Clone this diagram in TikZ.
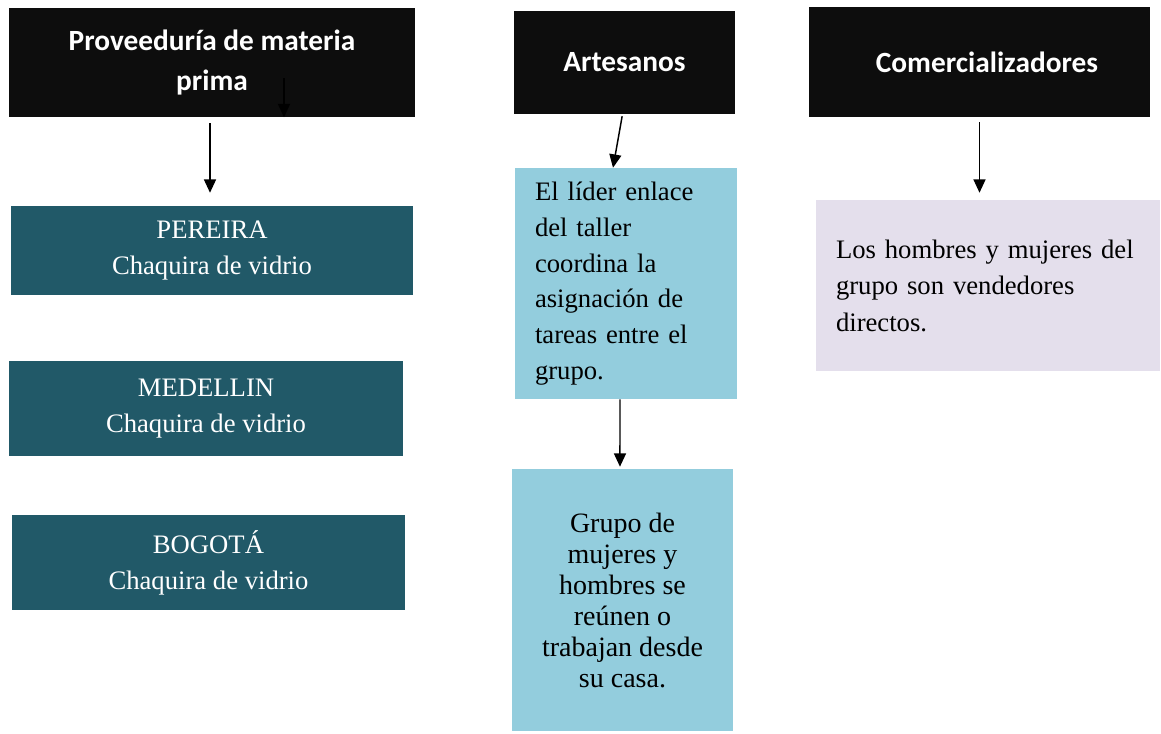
\documentclass[tikz,border=0pt]{standalone}
\usepackage{fontspec}
\setmainfont{Liberation Serif}
\newfontfamily\hdfont{Carlito}
\usepackage{tikz}
\usetikzlibrary{arrows.meta}

\definecolor{hdblack}{HTML}{0D0D0D}
\definecolor{cityteal}{HTML}{215968}
\definecolor{taskblue}{HTML}{93CDDD}
\definecolor{salelav}{HTML}{E4DFEC}

\begin{document}
\begin{tikzpicture}[x=0.75pt, y=-0.75pt,
  hdbox/.style={fill=hdblack, text=white, align=center,
    font=\hdfont\bfseries\fontsize{22}{30}\selectfont},
  citybox/.style={fill=cityteal, text=white, align=center,
    font=\fontsize{20}{27}\selectfont},
  taskbox/.style={fill=taskblue, text=black,
    font=\fontsize{20}{26.8}\selectfont},
  arr/.style={-{Triangle[length=10pt,width=9pt]}, line width=1.1pt}]
  \useasboundingbox (0,0) rectangle (1161,733);

  % cabeceras
  \node[hdbox, minimum width=304.5pt, minimum height=81.75pt] (prov) at (212,62.5)
    {Proveeduría de materia\\prima};
  \node[hdbox, minimum width=165.75pt, minimum height=77.25pt] (arte) at (624.5,62.5)
    {Artesanos};
  \node[hdbox, minimum width=255.75pt, minimum height=82.5pt] (come) at (979.5,62)
    {\hspace*{11.25pt}Comercializadores};

  % proveedores
  \node[citybox, minimum width=301.5pt, minimum height=66.75pt] (pere) at (212,250.5)
    {PEREIRA\\Chaquira de vidrio};
  \node[citybox, minimum width=295.5pt, minimum height=71.25pt] (mede) at (206,408.5)
    {MEDELLIN\\Chaquira de vidrio};
  \node[citybox, minimum width=294.75pt, minimum height=71.25pt] (bogo) at (208.5,562.5)
    {BOGOTÁ\\Chaquira de vidrio};

  % artesanos
  \node[taskbox, align=left, text width=136.5pt, inner xsep=15pt,
    minimum height=173.25pt] (lider) at (626,283.5)
    {El líder enlace\\del taller\\coordina la\\asignación de\\tareas entre el\\grupo.};
  \node[taskbox, align=center, minimum width=165.75pt, minimum height=196.5pt,
    font=\fontsize{21}{23.25}\selectfont] (grupo) at (622.5,600)
    {Grupo de\\mujeres y\\hombres se\\reúnen o\\trabajan desde\\su casa.};

  % comercializadores
  \node[fill=salelav, align=left, text width=228pt, inner xsep=15pt,
    minimum height=128.25pt, font=\fontsize{20}{27.4}\selectfont] (vende) at (988,285.5)
    {Los hombres y mujeres del\\grupo son vendedores\\directos.};

  % flechas
  \coordinate (suelta) at (284,78);
  \draw[arr] (suelta) -- (suelta |- prov.south);
  \draw[arr, shorten <=4.5pt, shorten >=9.75pt] ([xshift=-1.5pt]prov.south) -- ([xshift=-1.5pt]pere.north);
  \draw[arr, shorten <=1.5pt] ([xshift=-1.5pt]arte.south) -- ([xshift=-9.75pt]lider.north);
  \draw[arr, shorten >=1.5pt] ([xshift=-4.5pt]lider.south) -- ([xshift=-1.9pt]grupo.north);
  \draw[arr, shorten <=3.75pt, shorten >=5.25pt] (come.south) -- (vende.north -| come.south);
\end{tikzpicture}
\end{document}
